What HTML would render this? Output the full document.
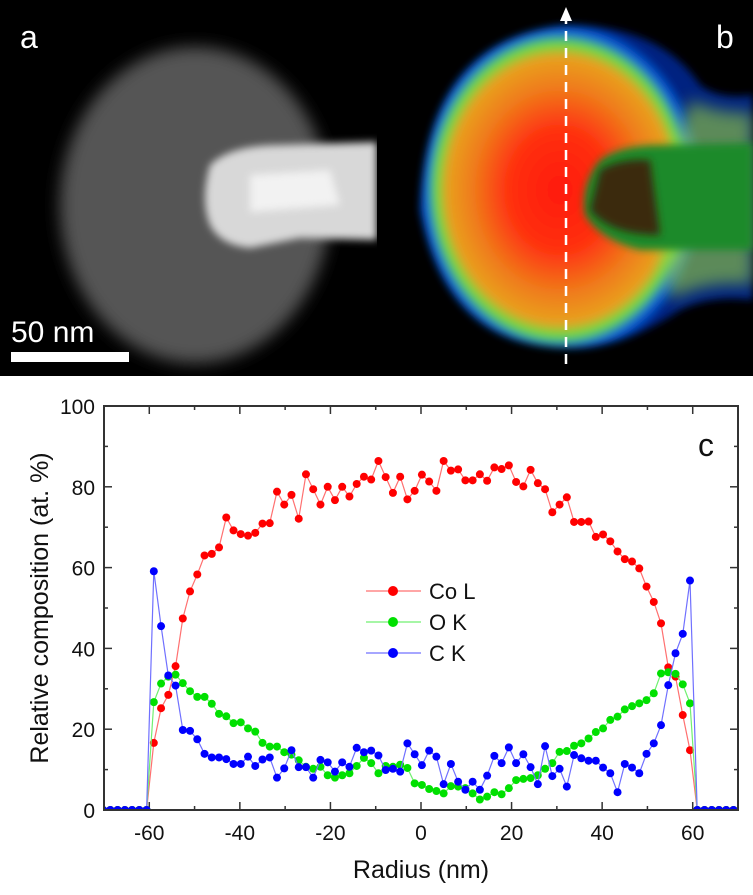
<!DOCTYPE html>
<html><head><meta charset="utf-8"><style>
html,body{margin:0;padding:0;background:#fff;}
svg{display:block;font-family:"Liberation Sans",sans-serif;}
</style></head><body>
<svg id="fig" width="753" height="895" viewBox="0 0 753 895" xmlns="http://www.w3.org/2000/svg">
<defs>
<filter id="b8" x="-30%" y="-30%" width="160%" height="160%"><feGaussianBlur stdDeviation="8"/></filter>
<filter id="b4" x="-30%" y="-30%" width="160%" height="160%"><feGaussianBlur stdDeviation="4"/></filter>
<radialGradient id="heat" cx="560" cy="190" r="170" gradientUnits="userSpaceOnUse" gradientTransform="translate(560 190) scale(0.85 1) translate(-560 -190)">
<stop offset="0" stop-color="#ff1a10"/><stop offset="0.35" stop-color="#ff3010"/><stop offset="0.6" stop-color="#f07a1a"/><stop offset="0.78" stop-color="#e8a020"/><stop offset="0.86" stop-color="#66dd44"/><stop offset="0.93" stop-color="#0a60e0"/><stop offset="1" stop-color="#002080"/></radialGradient>
<clipPath id="ca"><rect x="0" y="0" width="377" height="376"/></clipPath>
<clipPath id="cb"><rect x="377" y="0" width="376" height="376"/></clipPath>
<clipPath id="cp"><rect x="104" y="406" width="634" height="404"/></clipPath>
</defs>
<g clip-path="url(#ca)">
<rect x="0" y="0" width="377" height="376" fill="#000"/>
<ellipse cx="195" cy="205" rx="135" ry="158" fill="#555" filter="url(#b8)"/>
<path d="M210 165 Q230 145 280 145 L377 142 L377 240 L300 238 L250 248 Q220 245 210 225 Q200 200 210 165Z" fill="#d8d8d8" filter="url(#b4)"/>
<path d="M250 175 L330 170 L340 205 L250 212Z" fill="#f2f2f2" filter="url(#b4)"/>
</g>
<g clip-path="url(#cb)">
<rect x="377" y="0" width="376" height="376" fill="#000"/>
<path d="M565 25 Q660 25 700 85 Q720 100 753 95 L753 300 Q710 295 680 310 Q620 350 565 348 Q445 345 420 210 Q425 40 565 25Z" fill="url(#heat)" filter="url(#b4)"/>
<path d="M690 100 Q720 115 753 112 L753 285 Q705 280 670 300 L660 240 L680 130Z" fill="#9ad040" filter="url(#b8)" opacity="0.6"/>
<path d="M600 160 Q620 145 660 145 L753 143 L753 250 L640 250 Q600 240 585 215 Q580 185 600 160Z" fill="#1a8a2a" filter="url(#b4)"/>
<path d="M600 170 Q620 158 650 160 L660 235 Q610 235 590 210 Z" fill="#3a2a0a" filter="url(#b4)"/>
<line x1="566" y1="364" x2="566" y2="18" stroke="#fff" stroke-width="2.5" stroke-dasharray="10,7"/>
<polygon points="566,7 560,21 572,21" fill="#fff"/>
</g>
<text x="20" y="48" font-size="32" fill="#fff">a</text>
<text x="716" y="48" font-size="32" fill="#fff">b</text>
<text x="11" y="342" font-size="30" fill="#fff">50 nm</text>
<rect x="11" y="352" width="118" height="10" fill="#fff"/>
<g id="chart"></g>
</svg>
<script>
const xs = [-70.2,-68.6,-67,-65.4,-63.8,-62.2,-60.6,
-59,-57.4,-55.8,-54.2,-52.6,-51,-49.4,-47.8,-46.2,-44.6,-43,-41.4,-39.8,-38.2,-36.6,-35,-33.4,-31.8,-30.2,-28.6,-27,-25.4,-23.8,-22.2,-20.6,-19,-17.4,-15.8,-14.2,-12.6,-11,-9.4,-7.8,-6.2,-4.6,-3,
-1.4,0.2,1.8,3.4,5,6.6,8.2,9.8,11.4,13,14.6,16.2,17.8,19.4,21,22.6,24.2,25.8,27.4,29,30.6,32.2,33.8,35.4,37,38.6,40.2,41.8,43.4,45,46.6,48.2,49.8,51.4,53,54.6,56.2,57.8,59.4,
61,62.6,64.2,65.8,67.4,69,70.6];
const coL = [0,0,0,0,0,0,0,
16.6,25.2,28.5,35.6,47.4,54.1,58.3,63,63.4,65,72.4,69.2,68.3,67.9,68.6,70.9,71,78.8,75.6,78,72.1,83.1,79.4,75.6,80,76.7,80,77.6,80.7,82.5,81.8,86.4,82.4,78.5,82.5,76.9,
79,83,81.3,79,86.4,84,84.3,81.6,81.6,83.1,81.5,84.8,84.4,85.3,81.2,80.1,84.2,80.9,79.4,73.7,75.6,77.4,71.3,71.3,71.4,67.6,68.2,66.5,64,62.1,61.5,59.8,55.3,51.5,46.2,35.3,33,23.5,14.8,
0,0,0,0,0,0,0];
const oK = [0,0,0,0,0,0,0,
26.7,31.3,33,33.5,31.4,29.4,28,28,26.3,23.8,23.2,21.5,21.7,20.2,19.4,16.6,15.7,15.7,14.3,13.7,12.3,10.7,10.2,10.7,8.6,8,8.6,9.1,10.9,12.9,11.6,9.1,10.9,10.7,11.2,10.4,
6.6,6.2,5.2,4.7,4.1,5.9,5.8,5.4,4.1,2.6,3.3,4.4,3.9,5.4,7.4,7.7,7.9,8.6,10.2,11.6,14.4,14.6,15.9,16.5,17.7,19.3,20.2,22.3,23.1,24.9,25.7,26.4,27.2,28.9,33.8,34.1,33.7,31.1,26.4,
0,0,0,0,0,0,0];
const cK = [0,0,0,0,0,0,0,
59.1,45.5,33.3,30.8,19.8,19.6,17.5,13.9,13,13,12.6,11.4,11.4,13.2,10.9,12.5,13,8,10.3,14.8,10.6,10.6,8,12.4,11.8,9.5,11.8,10.7,15.4,14.3,14.7,13.5,9.9,10.2,9.5,16.5,
13.8,11.1,14.7,13.2,6.4,11.4,7,5,7,5,8.5,13.4,11.6,15.5,11.6,13.8,10.6,6.4,15.8,8.4,10.2,5.8,13.6,12.8,12.2,12.2,10.5,9.1,4.4,11.4,10.5,9.1,13.9,16.5,21,30.9,38.8,43.6,56.8,
0,0,0,0,0,0,0];
const xTicks = [-60,-40,-20,0,20,40,60];
const yTicks = [0,20,40,60,80,100];
const seriesNames = ["Co L","O K","C K"];
const seriesColors = ["#ff0000","#00e000","#0000ff"];
const seriesLines = ["#ff7070","#70f070","#7070ff"];

const NS="http://www.w3.org/2000/svg";
const L=104,R=738,T=406,B=810;
function sx(v){return L+(v+70)/140*(R-L);}
function sy(v){return B-v/100*(B-T);}
const g=document.getElementById('chart');
function mk(tag,attrs,parent){const e=document.createElementNS(NS,tag);for(const k in attrs)e.setAttribute(k,attrs[k]);(parent||g).appendChild(e);return e;}

for(let v=-70;v<=70;v+=10){
  const major=xTicks.includes(v);const len=major?8:4;
  const t1=mk('line',{x1:sx(v),x2:sx(v),y1:B,y2:B-len,stroke:'#333','stroke-width':1.5});
  
  
  const t2=mk('line',{x1:sx(v),x2:sx(v),y1:T,y2:T+len,stroke:'#333','stroke-width':1.5});
  
  
}
for(let v=0;v<=100;v+=10){
  const major=yTicks.includes(v);const len=major?8:4;
  const t1=mk('line',{x1:L,x2:L+len,y1:sy(v),y2:sy(v),stroke:'#333','stroke-width':1.5});
  
  
  const t2=mk('line',{x1:R,x2:R-len,y1:sy(v),y2:sy(v),stroke:'#333','stroke-width':1.5});
  
  
}
xTicks.forEach(v=>{
  const t=mk('text',{x:sx(v),y:B+30,'font-size':21,'text-anchor':'middle',fill:'#111'});
  t.textContent=String(v);
  
  
});
yTicks.forEach(v=>{
  const t=mk('text',{x:L-9,y:sy(v)+8,'font-size':21,'text-anchor':'end',fill:'#111'});
  t.textContent=v;
  
  
});
const xt=mk('text',{x:(L+R)/2,y:878,'font-size':25,'text-anchor':'middle',fill:'#111'});
xt.textContent='Radius (nm)';


const yt=mk('text',{x:0,y:0,'font-size':25,'text-anchor':'middle',fill:'#111',transform:'translate(48,'+((T+B)/2)+') rotate(-90)'});
yt.textContent='Relative composition (at. %)';


const pl=mk('text',{x:698,y:456,'font-size':32,fill:'#111'});
pl.textContent='c';



const plot=mk('g',{'clip-path':'url(#cp)'});


const all=[coL,oK,cK];
all.forEach((arr,si)=>{
  const sg=mk('g',{},plot);
  
  
  const pts=arr.map((v,i)=>sx(xs[i]).toFixed(1)+','+sy(v).toFixed(1)).join(' ');
  const ln=mk('polyline',{points:pts,fill:'none',stroke:seriesLines[si],'stroke-width':1.2},sg);
  
  
  arr.forEach((v,i)=>{
    const c=mk('circle',{cx:sx(xs[i]),cy:sy(v),r:4,fill:seriesColors[si]},sg);
    
    
  });
});
const fr=mk('rect',{x:L,y:T,width:R-L,height:B-T,fill:'none',stroke:'#333','stroke-width':2});



seriesNames.forEach((n,i)=>{
  const y=591+i*31;
  const lg=mk('g',{});
  
  
  mk('line',{x1:366,x2:421,y1:y,y2:y,stroke:seriesLines[i],'stroke-width':1.2},lg);
  mk('circle',{cx:393,cy:y,r:5,fill:seriesColors[i]},lg);
  const t=mk('text',{x:429,y:y+8,'font-size':22,fill:'#111'},lg);
  t.textContent=n;
});
</script>
</body></html>
